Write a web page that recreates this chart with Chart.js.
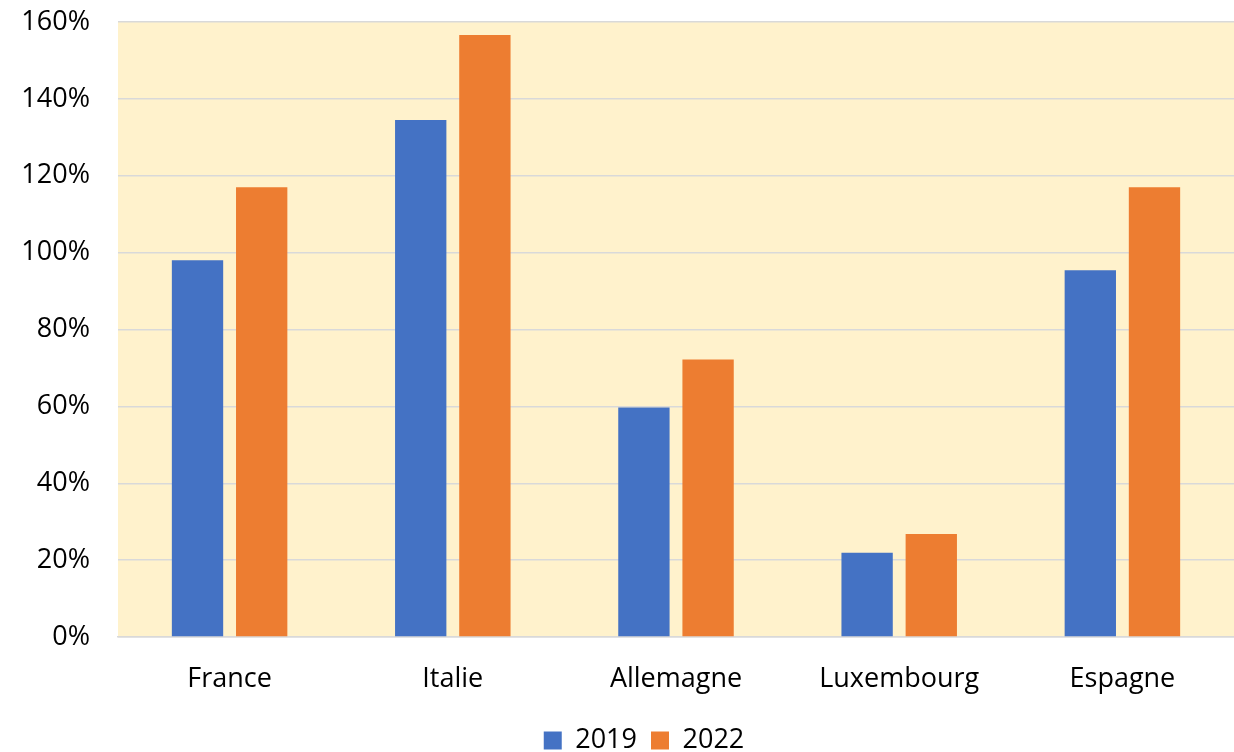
<!DOCTYPE html>
<html>
<head>
<meta charset="utf-8">
<script src="https://cdn.jsdelivr.net/npm/chart.js@4.4.1/dist/chart.umd.min.js"></script>
<style>
  html,body{margin:0;padding:0;background:#fff;}
  #wrap{width:1234px;height:752px;position:relative;}
</style>
</head>
<body>
<div id="wrap"><canvas id="c"></canvas></div>
<script>
// data
const countries=['France','Italie','Allemagne','Luxembourg','Espagne'];
const vals2019=[98,134.5,59.7,21.9,95.4];
const vals2022=[117,156.6,72.2,26.8,117];
const yTicks=[0,20,40,60,80,100,120,140,160];

// light yellow plot background + move the legend to where the original has it
const plotBg={
  id:'plotBg',
  beforeDraw(chart){
    const {ctx,chartArea:a}=chart;
    ctx.save();
    ctx.fillStyle='#FFF2CC';
    ctx.fillRect(a.left,a.top,a.right-a.left,a.bottom-a.top);
    ctx.restore();
  },
  afterLayout(chart){
    const lg=chart.legend;
    if(!lg) return;
    lg.left+=27;lg.right+=27;
    const dy=752-lg.bottom+12;
    lg.top+=dy;lg.bottom+=dy;
  }
};

const fontFam="'Open Sans', 'Liberation Sans', sans-serif";
Chart.defaults.font.family=fontFam;
Chart.defaults.color='#000';

new Chart(document.getElementById('c').getContext('2d'),{
  type:'bar',
  data:{labels:countries,datasets:[
    {label:'2019',data:vals2019,backgroundColor:'#4472C4',categoryPercentage:0.575,barPercentage:0.8},
    {label:'2022',data:vals2022,backgroundColor:'#ED7D31',categoryPercentage:0.575,barPercentage:0.8},
  ]},
  options:{
    responsive:true,
    maintainAspectRatio:false,
    animation:false,
    layout:{padding:{left:0,right:0,top:22,bottom:0}},
    plugins:{
      legend:{position:'bottom',labels:{color:'#000',font:{size:27,lineHeight:1},boxWidth:18,boxHeight:18,padding:14}},
      tooltip:{enabled:false}
    },
    scales:{
      y:{min:0,max:160,
        afterBuildTicks:ax=>{ax.ticks=yTicks.map(v=>({value:v}));},
        afterFit:ax=>{ax.paddingTop=0;ax.paddingBottom=0;ax.width=118;},
        ticks:{color:'#000',font:{size:27},padding:28,callback:v=>v+'%'},
        grid:{color:'#D9D9D9',lineWidth:1.5,drawTicks:false},
        border:{display:false}},
      x:{afterFit:ax=>{ax.height=64;},
        ticks:{color:'#000',font:{size:27},padding:18},
        grid:{display:false},border:{color:'#D9D9D9',width:1.5}}
    }
  },
  plugins:[plotBg]
});
</script>
</body>
</html>
